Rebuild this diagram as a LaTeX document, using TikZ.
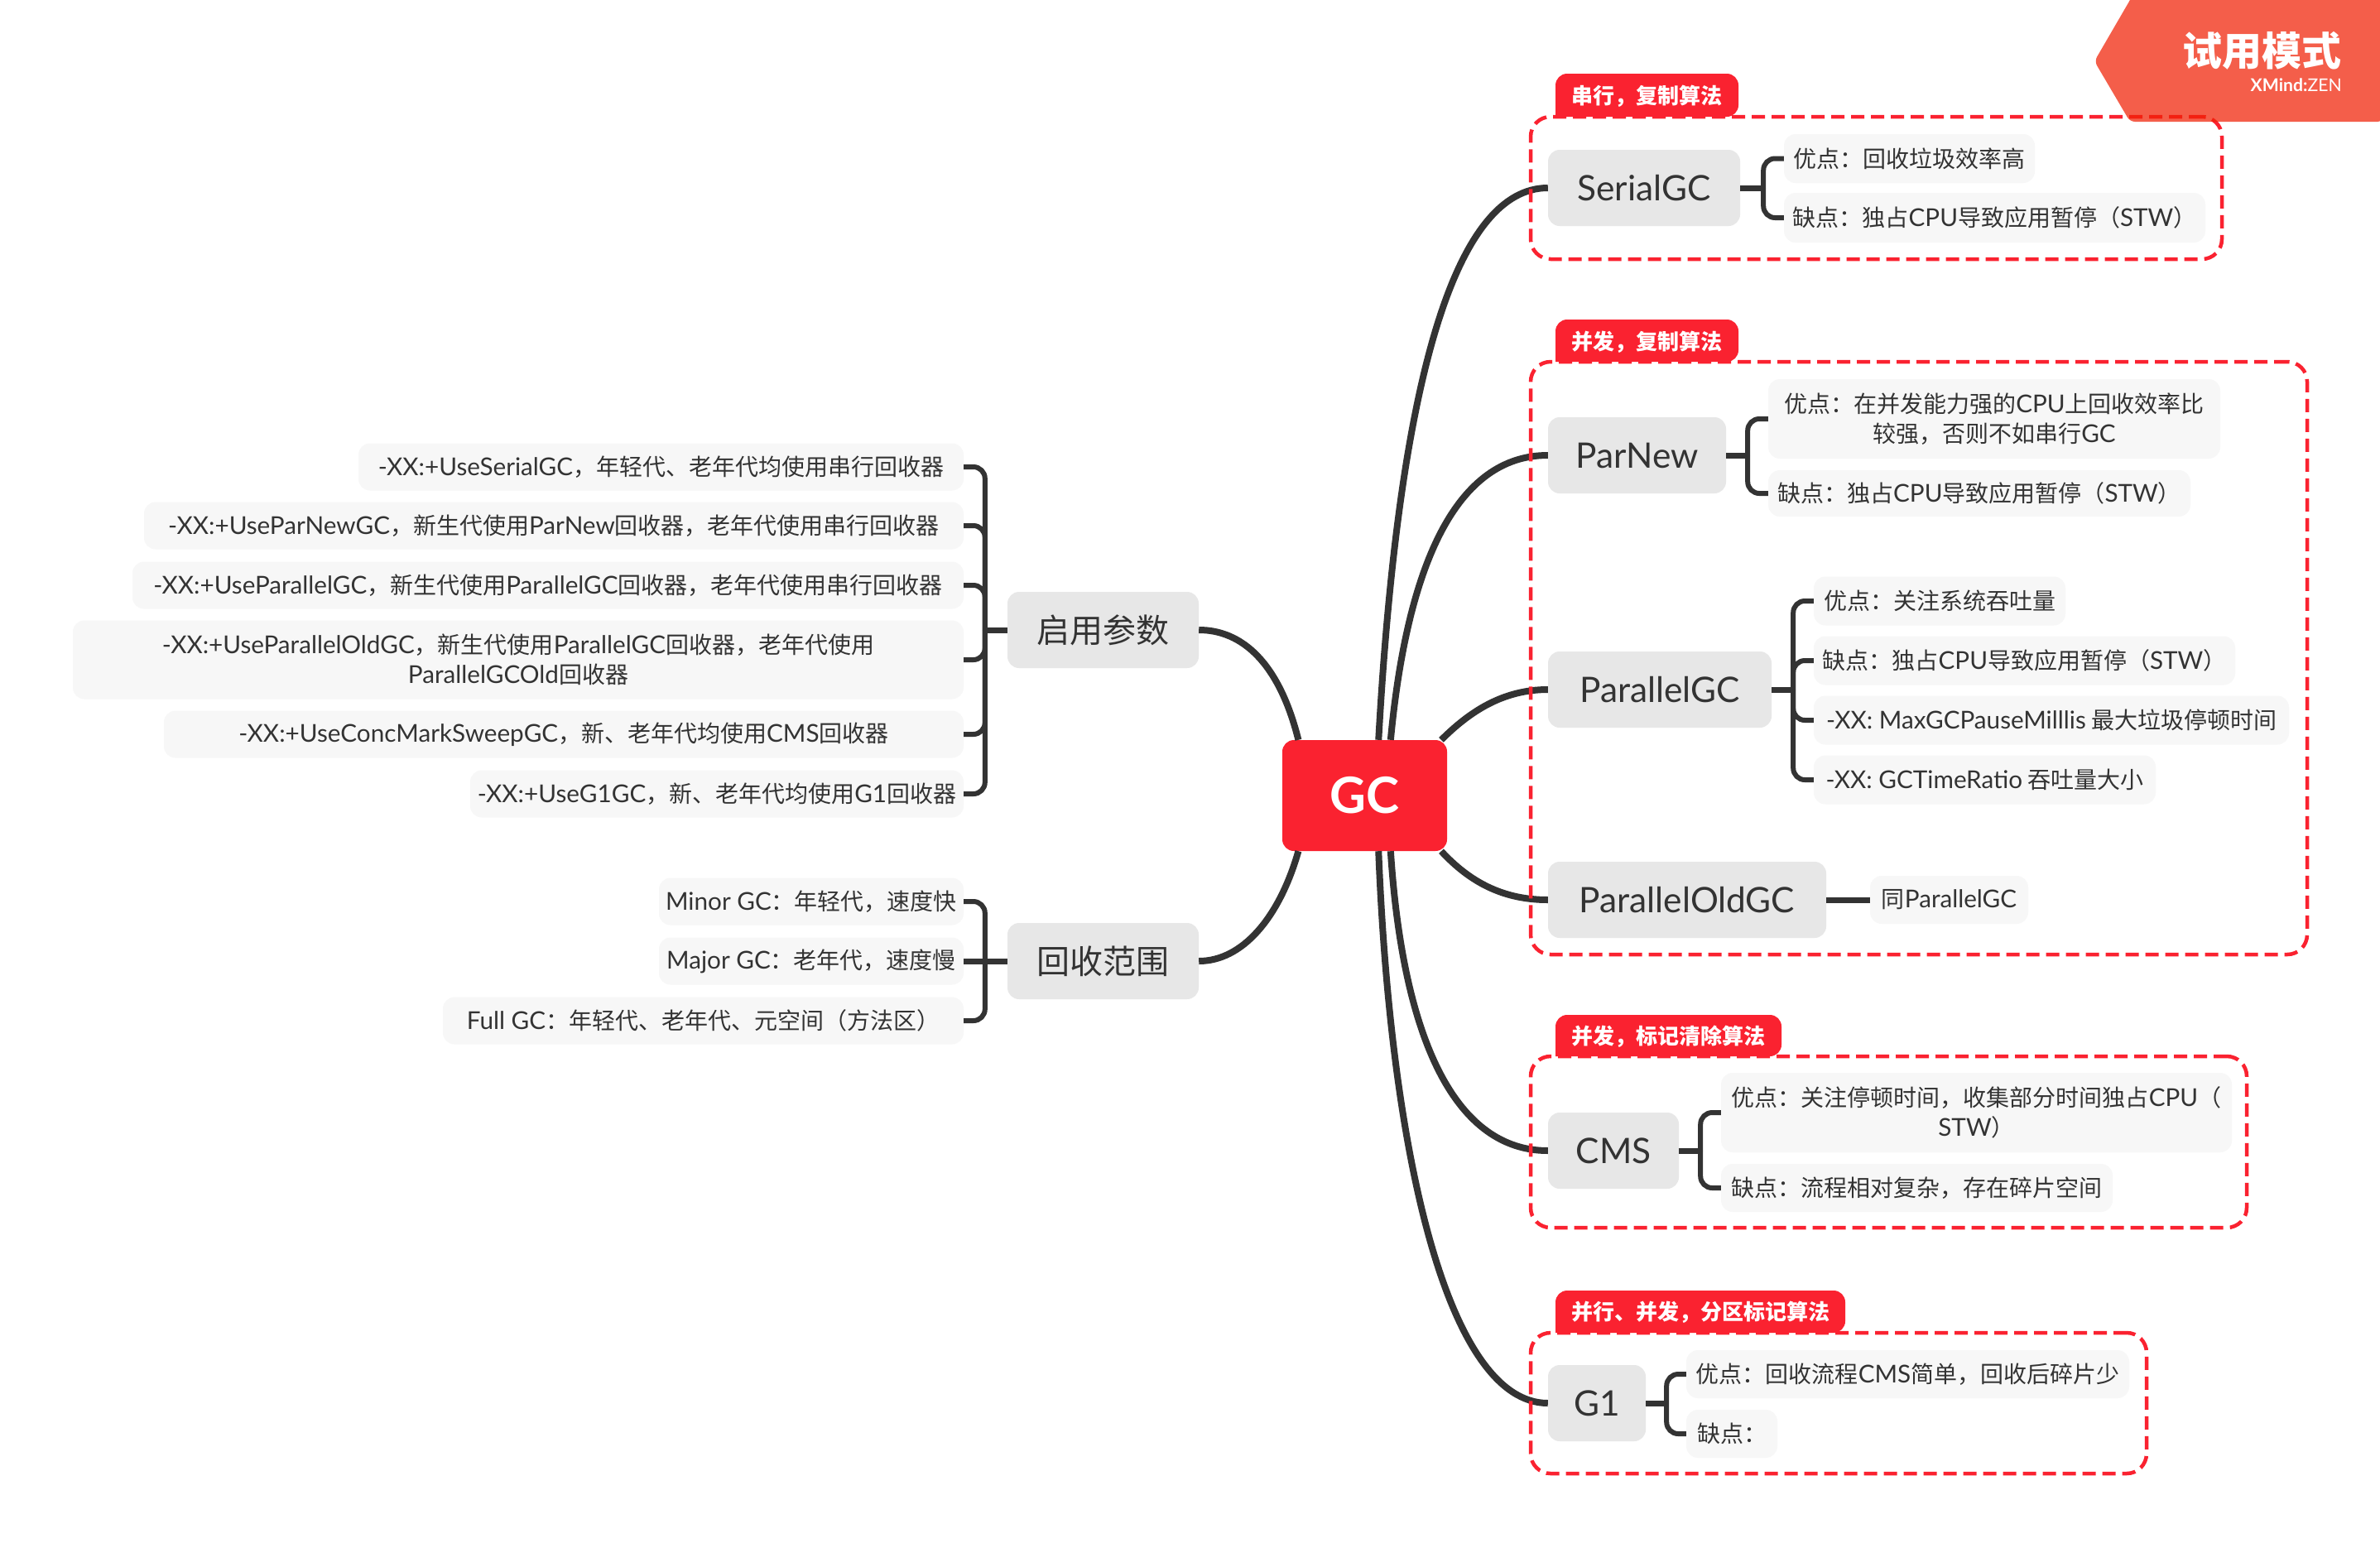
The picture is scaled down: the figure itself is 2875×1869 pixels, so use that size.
\documentclass[tikz,border=0pt]{standalone}
\usepackage{fontspec}
\setmainfont{Noto Sans CJK SC}
\newfontfamily\cj{Noto Sans CJK SC}
\newfontfamily\lat[Scale=1.06]{Lato}
\newcommand\la[1]{{\lat #1}}
\definecolor{tx}{HTML}{333333}
\definecolor{mainbg}{HTML}{E7E7E7}
\definecolor{subbg}{HTML}{F7F7F7}
\definecolor{gcred}{HTML}{FA2230}
\definecolor{badge}{HTML}{F12005}
\tikzset{
  root/.style={fill=gcred,text=white,rounded corners=14pt,inner sep=0pt,font=\fontsize{57}{60}\selectfont\lat\bfseries},
  topic/.style={fill=mainbg,text=tx,rounded corners=14pt,inner sep=0pt,font=\fontsize{40}{48}\selectfont\lat},
  ctopic/.style={fill=mainbg,text=tx,rounded corners=14pt,inner sep=0pt,font=\fontsize{40}{48}\selectfont\cj},
  sub/.style={fill=subbg,text=tx,rounded corners=14pt,inner sep=0pt,align=center,font=\fontsize{28}{36}\selectfont},
  curve/.style={draw=tx,line width=8pt},
  stub/.style={draw=tx,line width=7pt},
  brline/.style={draw=tx,line width=6pt,rounded corners=14pt},
  zone/.style={draw=gcred,line width=4.5pt,dash pattern=on 16pt off 8pt,rounded corners=24pt,fill=none,inner sep=0pt},
  tabfill/.style={fill=gcred,rounded corners=14pt},
  tabtext/.style={text=white,inner sep=0pt,font=\fontsize{26}{30}\selectfont\bfseries},
}
\newcommand\bx[7]{\node[#1,minimum width=#5pt,minimum height=#6pt] (#2) at (#3,#4) {#7};}
\begin{document}
\begin{tikzpicture}[x=1pt,y=-1pt]
\useasboundingbox[fill=white] (0,0) rectangle (2875,1869);

% root
\bx{root}{gc}{1648.5}{961}{199}{134}{GC}

% right topics
\bx{topic}{serial}{1986}{227}{232}{92}{SerialGC}
\bx{topic}{parnew}{1977.5}{550}{215}{92}{ParNew}
\bx{topic}{pargc}{2005}{833}{270}{92}{ParallelGC}
\bx{topic}{parold}{2038}{1087}{336}{92}{ParallelOldGC}
\bx{topic}{cms}{1949}{1390}{158}{92}{CMS}
\bx{topic}{gone}{1929}{1695}{118}{92}{G1}

% left topics
\bx{ctopic}{flags}{1332.5}{761}{231}{92}{启用参数}
\bx{ctopic}{scope}{1332.5}{1161}{231}{92}{回收范围}

% serial
\bx{sub}{sa}{2306.5}{191.5}{303}{59}{优点：回收垃圾效率高}
\bx{sub}{sb}{2409.5}{263}{509}{60}{缺点：独占\la{CPU}导致应用暂停（\la{STW}）}
% parnew
\bx{sub}{na}{2409}{506}{546}{96}{优点：在并发能力强的\la{CPU}上回收效率比\\较强，否则不如串行\la{GC}}
\bx{sub}{nb}{2391}{596}{510}{56}{缺点：独占\la{CPU}导致应用暂停（\la{STW}）}
% parallel
\bx{sub}{pa}{2343}{726}{304}{59}{优点：关注系统吞吐量}
\bx{sub}{pb}{2445.5}{798}{509}{59}{缺点：独占\la{CPU}导致应用暂停（\la{STW}）}
\bx{sub}{pc}{2478}{870}{574}{59}{\la{-XX: MaxGCPauseMilllis} 最大垃圾停顿时间}
\bx{sub}{pd}{2397.5}{942}{413}{59}{\la{-XX: GCTimeRatio} 吞吐量大小}
% old
\bx{sub}{oa}{2354.5}{1087}{191}{58}{同\la{ParallelGC}}
% cms
\bx{sub}{ca}{2387.5}{1344}{617}{96}{优点：关注停顿时间，收集部分时间独占\la{CPU}（\\\la{STW}）}
\bx{sub}{cb}{2315.5}{1435}{473}{58}{缺点：流程相对复杂，存在碎片空间}
% g1
\bx{sub}{ga}{2304.5}{1660}{535}{58}{优点：回收流程\la{CMS}简单，回收后碎片少}
\bx{sub}{gb}{2092}{1732}{110}{58}{缺点：}

% left items
\bx{sub}{fa}{798.5}{564}{731}{57}{\la{-XX:+UseSerialGC}，年轻代、老年代均使用串行回收器}
\bx{sub}{fb}{669}{635}{990}{57}{\la{-XX:+UseParNewGC}，新生代使用\la{ParNew}回收器，老年代使用串行回收器}
\bx{sub}{fc}{662}{707}{1004}{57}{\la{-XX:+UseParallelGC}，新生代使用\la{ParallelGC}回收器，老年代使用串行回收器}
\bx{sub}{fd}{626}{797}{1076}{95}{\la{-XX:+UseParallelOldGC}，新生代使用\la{ParallelGC}回收器，老年代使用\\\la{ParallelGCOld}回收器}
\bx{sub}{fe}{681}{887}{966}{57}{\la{-XX:+UseConcMarkSweepGC}，新、老年代均使用\la{CMS}回收器}
\bx{sub}{ff}{866}{959}{596}{57}{\la{-XX:+UseG1GC}，新、老年代均使用\la{G1}回收器}
\bx{sub}{ma}{980}{1089}{368}{57}{\la{Minor GC}：年轻代，速度快}
\bx{sub}{mb}{980}{1161}{368}{57}{\la{Major GC}：老年代，速度慢}
\bx{sub}{mc}{849.5}{1233}{629}{57}{\la{Full GC}：年轻代、老年代、元空间（方法区）}

% main curves
\draw[curve] (gc.76) .. controls (1690,450) and (1760,227) .. (serial.west);
\draw[curve] (gc.65) .. controls (1700,680) and (1760,550) .. (parnew.west);
\draw[curve] (gc.36) .. controls (1775,860) and (1815,833) .. (pargc.west);
\draw[curve] (gc.-36) .. controls (1775,1065) and (1815,1087) .. (parold.west);
\draw[curve] (gc.-65) .. controls (1695,1260) and (1760,1390) .. (cms.west);
\draw[curve] (gc.-76) .. controls (1680,1400) and (1750,1695) .. (gone.west);
\draw[curve] (gc.140) .. controls (1545,800) and (1500,761) .. (flags.east);
\draw[curve] (gc.-140) .. controls (1545,1110) and (1500,1161) .. (scope.east);

% brackets
\coordinate (j1) at ([xshift=28pt]serial.east);
\draw[stub] (serial.east) -- (j1);
\foreach \c in {sa,sb} \draw[brline] (j1) |- (\c.west);
\coordinate (j2) at ([xshift=26pt]parnew.east);
\draw[stub] (parnew.east) -- (j2);
\foreach \c in {na,nb} \draw[brline] (j2) |- (\c.west);
\coordinate (j3) at ([xshift=26pt]pargc.east);
\draw[stub] (pargc.east) -- (j3);
\foreach \c in {pa,pb,pc,pd} \draw[brline] (j3) |- (\c.west);
\draw[stub] (parold.east) -- (oa.west);
\coordinate (j4) at ([xshift=26pt]cms.east);
\draw[stub] (cms.east) -- (j4);
\foreach \c in {ca,cb} \draw[brline] (j4) |- (\c.west);
\coordinate (j5) at ([xshift=25pt]gone.east);
\draw[stub] (gone.east) -- (j5);
\foreach \c in {ga,gb} \draw[brline] (j5) |- (\c.west);
\coordinate (j6) at ([xshift=-27pt]flags.west);
\draw[stub] (flags.west) -- (j6);
\foreach \c in {fa,fb,fc,fd,fe,ff} \draw[brline] (j6) |- (\c.east);
\coordinate (j7) at ([xshift=-27pt]scope.west);
\draw[stub] (scope.west) -- (mb.east);
\foreach \c in {ma,mc} \draw[brline] (j7) |- (\c.east);

% zone tabs
\fill[tabfill] (1879,141) -- (1879,89) -- (2100,89) -- (2100,141) [sharp corners] -- cycle;
\node[tabtext] (ta) at (1989.5,116) {串行，复制算法};
\fill[tabfill] (1879,437) -- (1879,386) -- (2100,386) -- (2100,437) [sharp corners] -- cycle;
\node[tabtext] (tb) at (1989.5,413) {并发，复制算法};
\fill[tabfill] (1879,1276) -- (1879,1226) -- (2152,1226) -- (2152,1276) [sharp corners] -- cycle;
\node[tabtext] (tc) at (2015.5,1252) {并发，标记清除算法};
\fill[tabfill] (1879,1610) -- (1879,1559) -- (2229,1559) -- (2229,1610) [sharp corners] -- cycle;
\node[tabtext] (td) at (2054,1585) {并行、并发，分区标记算法};

% zones
\node[zone,minimum width=835pt,minimum height=172pt] (za) at (2266.5,227) {};
\node[zone,minimum width=938pt,minimum height=716pt] (zb) at (2318,795) {};
\node[zone,minimum width=865pt,minimum height=207pt] (zc) at (2281.5,1379.5) {};
\node[zone,minimum width=744pt,minimum height=170pt] (zd) at (2221,1695) {};

% trial badge
\fill[badge,fill opacity=.72,rounded corners=6pt] (2573,0) -- (2530,74) -- (2573,147) -- (2878,147) -- (2878,-3) -- (2575,-3) -- cycle;
\node[text=white,inner sep=0pt,font=\fontsize{48}{52}\selectfont\bfseries] (bt) at (2732,61) {试用模式};
\node[text=white,inner sep=0pt,anchor=east,font=\fontsize{20}{22}\selectfont\lat] (bs) at (2829,103) {\textbf{XMind:}ZEN};
\end{tikzpicture}
\end{document}
